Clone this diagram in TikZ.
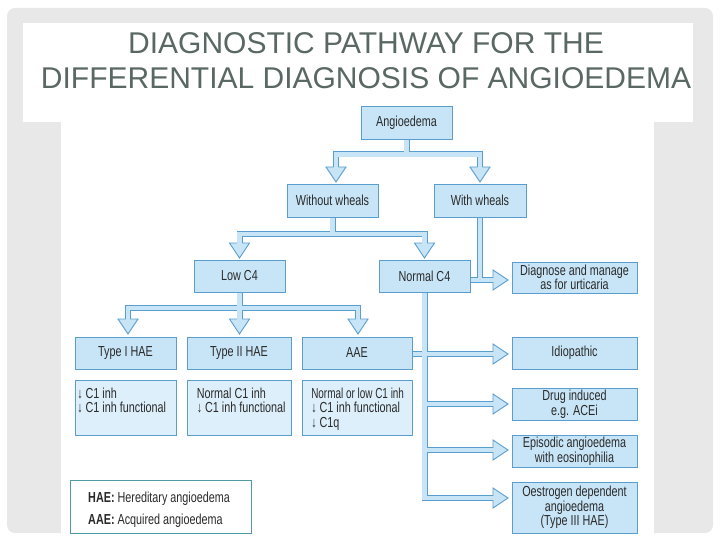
\documentclass[tikz,border=0pt]{standalone}
\usepackage{fontspec}
\setmainfont{Liberation Sans}
\newfontfamily\diag[FakeStretch=0.745]{Liberation Sans}
\usetikzlibrary{calc}
\definecolor{bxfill}{HTML}{C8E5F7}
\definecolor{bxlite}{HTML}{DDEFFA}
\definecolor{bxline}{HTML}{5A9ED0}
\definecolor{txt}{HTML}{2A2A2A}
\definecolor{ttl}{HTML}{5A6863}
\definecolor{framegray}{HTML}{E8E8E8}
\definecolor{leg}{HTML}{4E9AA6}
\pgfdeclarelayer{back}
\pgfdeclarelayer{bg}
\pgfsetlayers{back,bg,main}
\newcommand\headR[1]{%
  \draw[headst] ($(#1)+(-15,-10)$) -- (#1) -- ($(#1)+(-15,10)$) -- cycle;
  \draw[erase] ($(#1)+(-16.5,0)$) -- ($(#1)+(-13.6,0)$);}
\newcommand\headD[1]{%
  \draw[headst] ($(#1)+(-10,-15)$) -- (#1) -- ($(#1)+(10,-15)$) -- cycle;
  \draw[erase] ($(#1)+(0,-16.5)$) -- ($(#1)+(0,-13.6)$);}
\begin{document}
\begin{tikzpicture}[x=1pt,y=-1pt,
  box/.style={draw=bxline, fill=bxfill, line width=0.9pt, inner sep=0pt, text=txt,
    font=\diag\fontsize{14.5}{14.5}\selectfont, align=center},
  detail/.style={box, fill=bxlite},
  dtext/.style={inner sep=0pt, text=txt, align=left, anchor=north west,
    font=\diag\fontsize{14.5}{14.5}\selectfont},
  lgtext/.style={inner sep=0pt, text=txt, anchor=base west,
    font=\diag\fontsize{14.5}{14.5}\selectfont},
  shaft/.style={line width=4.2pt, draw=bxfill, line join=miter,
    preaction={draw=bxline, line width=6pt}},
  headst/.style={draw=bxline, fill=bxfill, line width=0.9pt, line join=miter},
  erase/.style={draw=bxfill, line width=4.2pt}]
\useasboundingbox (0,0) rectangle (720,540);
% slide frame
\begin{pgfonlayer}{back}
\fill[framegray, rounded corners=8pt] (7,8) rectangle (713,533);
\fill[white] (23,23) rectangle (693,122);
\fill[white] (61,100) rectangle (654,540);
\end{pgfonlayer}
% title
\node[anchor=north, inner sep=0pt, text=ttl, align=center,
  font=\fontsize{30}{35}\selectfont] (title) at (366,32)
  {DIAGNOSTIC PATHWAY FOR THE\\DIFFERENTIAL DIAGNOSIS OF ANGIOEDEMA};
% boxes
\node[box, minimum width=91, minimum height=33] (ang) at (406.5,122.5) {Angioedema};
\node[box, minimum width=91, minimum height=33] (wo) at (332.5,200.5) {Without wheals};
\node[box, minimum width=92, minimum height=33] (wi) at (480,200.5) {With wheals};
\node[box, minimum width=91, minimum height=32] (low) at (239.5,276) {Low C4};
\node[box, minimum width=91, minimum height=32] (norm) at (424.5,276) {Normal C4};
\node[box, minimum width=125, minimum height=31] (diag) at (574.5,277.5) {Diagnose and manage\\as for urticaria};
\node[box, minimum width=101, minimum height=32] (t1) at (125.5,353) {Type I HAE};
\node[box, minimum width=104, minimum height=32] (t2) at (239,353) {Type II HAE};
\node[box, minimum width=110, minimum height=32] (aae) at (357,353) {AAE};
\node[detail, minimum width=101, minimum height=55] (d1) at (125.5,407.5) {};
\node[detail, minimum width=104, minimum height=55] (d2) at (239,407.5) {};
\node[detail, minimum width=110, minimum height=55] (d3) at (357,407.5) {};
\node[dtext] (d1t) at ($(d1.north west)+(2.5,8)$) {↓ C1 inh\\↓ C1 inh functional};
\node[dtext] (d2t) at ($(d2.north west)+(10,8)$) {Normal C1 inh\\↓ C1 inh functional};
\node[dtext] (d3t) at ($(d3.north west)+(9.5,8)$) {\scalebox{0.92}[1]{Normal or low C1 inh}\\↓ C1 inh functional\\↓ C1q};
\node[box, minimum width=125, minimum height=32] (idio) at (574.5,353) {Idiopathic};
\node[box, minimum width=125, minimum height=32] (drug) at (574.5,404) {Drug induced\\e.g. ACEi};
\node[box, minimum width=125, minimum height=32] (epi) at (574.5,451) {Episodic angioedema\\with eosinophilia};
\node[box, minimum width=125, minimum height=51] (oest) at (574.5,507.5) {Oestrogen dependent\\angioedema\\(Type III HAE)};
% legend
\node[draw=leg, fill=white, line width=1pt, minimum width=181, minimum height=53, inner sep=0pt] (leg) at (160.5,506.5) {};
\node[lgtext] (leg1) at (88,502) {\textbf{HAE:} Hereditary angioedema};
\node[lgtext] (leg2) at (88,524) {\textbf{AAE:} Acquired angioedema};
% connectors
\begin{pgfonlayer}{bg}
\draw[shaft]
  (ang.south) -- (406.5,154.5)
  (336,168) -- (336,154.5) -- (480,154.5) -- (480,168)
  (wo.south) -- (332.5,234)
  (239.5,244) -- (239.5,234) -- (424.5,234) -- (424.5,244)
  (wi.south) -- (480,280)
  ($(norm.east)+(0,4)$) -- (494,280)
  (low.south) -- (239.5,321)
  (128,321) -- (128,308) -- (358,308) -- (358,321)
  (norm.south) -- (424.5,498) -- (494,498)
  ($(aae.east)+(0,1)$) -- (494,354)
  (424.5,404) -- (494,404)
  (424.5,450) -- (494,450);
\headD{336,182}
\headD{480,182}
\headD{239.5,258}
\headD{424.5,258}
\headD{128,334}
\headD{239.5,334}
\headD{358,334}
\headR{508,280}
\headR{508,354}
\headR{508,404}
\headR{508,450}
\headR{508,498}
\end{pgfonlayer}
\end{tikzpicture}
\end{document}
